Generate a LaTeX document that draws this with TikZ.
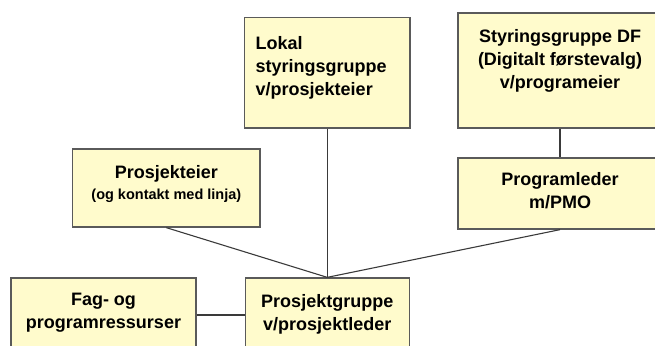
\documentclass[tikz,border=0pt]{standalone}
\usepackage{fontspec}
\setmainfont{Liberation Sans}
\usetikzlibrary{calc}
\definecolor{boxfill}{HTML}{FFFBCC}
\definecolor{boxline}{HTML}{5A5A5A}
\definecolor{conn}{HTML}{3A3A3A}
\tikzset{
  box/.style={draw=boxline, fill=boxfill, line width=1.3pt, rectangle, inner sep=0pt},
  txt/.style={inner sep=0pt, font=\bfseries\fontsize{18}{23}\selectfont},
  connector/.style={draw=conn, line width=1.1pt}
}
\begin{document}
\begin{tikzpicture}[x=1pt,y=1pt]
\useasboundingbox (0,0) rectangle (655,-345);
\clip (0,0) rectangle (655,-345);
% boxes
\node[box, minimum width=165.5pt, minimum height=110.5pt] (lokal) at (327.25,-72.75) {};
\node[box, minimum width=204pt, minimum height=115pt] (df) at (560,-70.5) {};
\node[box, minimum width=204pt, minimum height=71pt] (pl) at (560,-193.5) {};
\node[box, minimum width=187.3pt, minimum height=78pt] (pe) at (166.35,-188) {};
\node[box, minimum width=185pt, minimum height=74pt] (fag) at (103.5,-315) {};
\node[box, minimum width=164pt, minimum height=74pt] (pg) at (327.25,-315) {};
% connectors
\draw[connector] (lokal.south) -- (pg.north);
\draw[connector] (pe.south) -- (pg.north);
\draw[connector] (pl.south) -- (pg.north);
\draw[connector] (df.south) -- (pl.north);
\draw[connector] (fag) -- (pg);
% redraw boxes over connector ends
% texts
\node[txt, align=left, anchor=north west] (lokaltxt) at (255.5,-36) {Lokal\\styringsgruppe\\v/prosjekteier};
\node[txt, align=center, anchor=north] (dftxt) at (560,-29) {Styringsgruppe DF\\(Digitalt førstevalg)\\v/programeier};
\node[txt, align=center] (pltxt) at (560,-191) {Programleder\\m/PMO};
\node[txt, align=center, anchor=north] (petxt) at (166.35,-165.5) {Prosjekteier\\[-2pt]{\fontsize{14.5}{17}\selectfont (og kontakt med linja)}};
\node[txt, align=center, fill=boxfill] (fagtxt) at (103.5,-313) {Fag- og\\programressurser};
\node[txt, align=center] (pgtxt) at (327.25,-314) {Prosjektgruppe\\v/prosjektleder};
\end{tikzpicture}
\end{document}
